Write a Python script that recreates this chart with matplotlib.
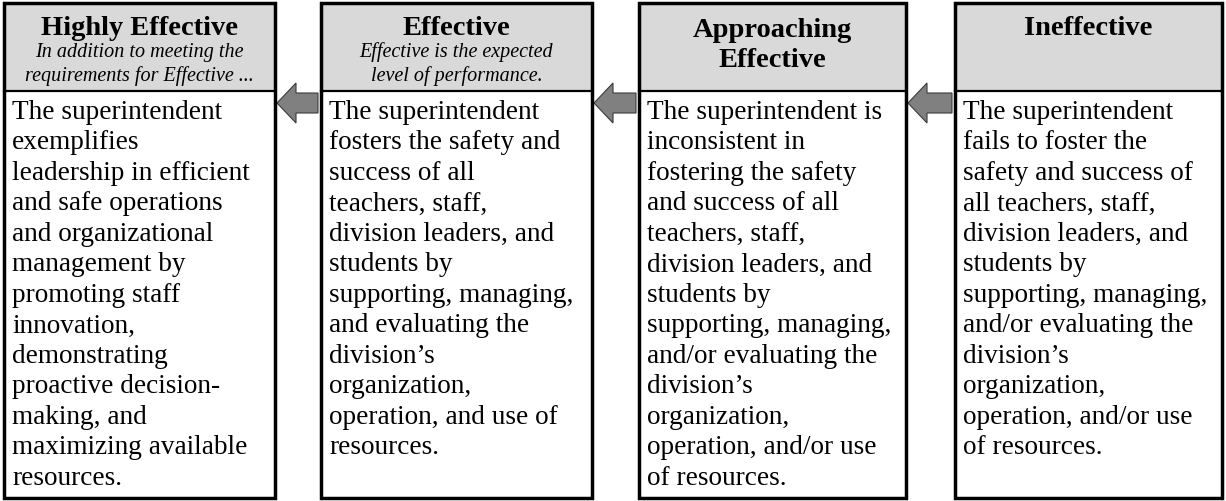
import matplotlib.pyplot as plt
from matplotlib.patches import Rectangle, Polygon

plt.rcParams['font.family'] = ['Liberation Serif', 'DejaVu Serif']

# rubric levels, left to right
levels = ["Highly Effective", "Effective", "Approaching\nEffective", "Ineffective"]
notes = [
    ["In addition to meeting the", "requirements for Effective ..."],
    ["Effective is the expected", "level of performance."],
    [],
    [],
]
body = [
    ["The superintendent", "exemplifies", "leadership in efficient", "and safe operations",
     "and organizational", "management by", "promoting staff", "innovation,",
     "demonstrating", "proactive decision-", "making, and", "maximizing available",
     "resources."],
    ["The superintendent", "fosters the safety and", "success of all", "teachers, staff,",
     "division leaders, and", "students by", "supporting, managing,", "and evaluating the",
     "division\u2019s", "organization,", "operation, and use of", "resources."],
    ["The superintendent is", "inconsistent in", "fostering the safety", "and success of all",
     "teachers, staff,", "division leaders, and", "students by", "supporting, managing,",
     "and/or evaluating the", "division\u2019s", "organization,", "operation, and/or use",
     "of resources."],
    ["The superintendent", "fails to foster the", "safety and success of", "all teachers, staff,",
     "division leaders, and", "students by", "supporting, managing,", "and/or evaluating the",
     "division\u2019s", "organization,", "operation, and/or use", "of resources."],
]

# layout in pixels
W, H = 1226, 502
box_l = [4, 321, 639, 955]
box_r = [275, 592, 906, 1222]
top, mid, bottom = 4, 92, 499
header_fill = "#d9d9d9"

fig = plt.figure(figsize=(W / 100, H / 100), dpi=100)
ax = fig.add_axes([0, 0, 1, 1])
ax.set_xlim(0, W)
ax.set_ylim(H, 0)
ax.axis("off")

for i, name in enumerate(levels):
    l, r = box_l[i], box_r[i]
    cx = (l + r) / 2
    ax.add_patch(Rectangle((l, top), r - l, mid - top, facecolor=header_fill, edgecolor="none", zorder=1))
    ax.add_patch(Rectangle((l, top), r - l, bottom - top, facecolor="none", edgecolor="black", lw=2.5, zorder=3))
    ax.plot([l, r], [mid, mid], color="black", lw=1.6, zorder=3)

    title_lines = name.split("\n")
    if len(title_lines) == 1:
        ax.text(cx, 35, name, ha="center", va="baseline", fontsize=20.5, fontweight="bold")
    else:
        for k, t in enumerate(title_lines):
            ax.text(cx, 37 + k * 30, t, ha="center", va="baseline", fontsize=20.5, fontweight="bold")

    for k, t in enumerate(notes[i]):
        ax.text(cx, 57 + k * 24, t, ha="center", va="baseline", fontsize=14.5, style="italic")

    for k, t in enumerate(body[i]):
        ax.text(l + 8, 119 + k * 30.5, t, ha="left", va="baseline", fontsize=19.6)

# arrows between the boxes, pointing left
yc, head_len, head_h, shaft_h = 104, 19, 20, 10
for i in range(len(levels) - 1):
    x0 = box_r[i] + 2
    x1 = box_l[i + 1] - 3
    pts = [(x0, yc), (x0 + head_len, yc - head_h), (x0 + head_len, yc - shaft_h),
           (x1, yc - shaft_h), (x1, yc + shaft_h), (x0 + head_len, yc + shaft_h),
           (x0 + head_len, yc + head_h)]
    ax.add_patch(Polygon(pts, closed=True, facecolor="#808080", edgecolor="#3a3a3a", lw=0.8, zorder=2))

fig.savefig("out.png", dpi=100)
